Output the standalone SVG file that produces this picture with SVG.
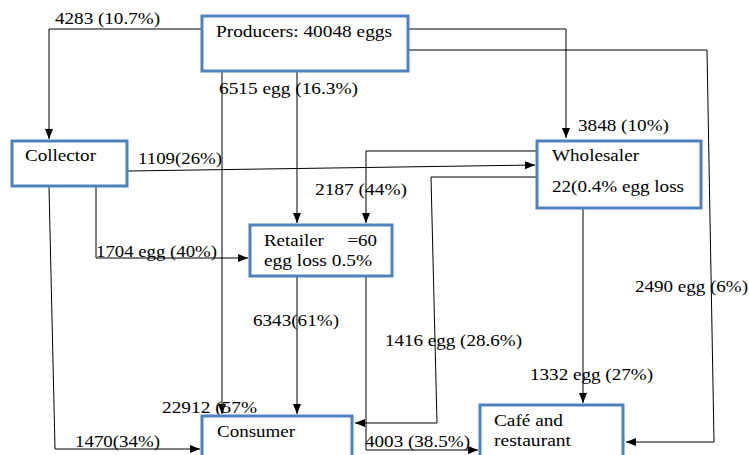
<svg xmlns="http://www.w3.org/2000/svg" width="749" height="455" viewBox="0 0 749 455">
<style>
.box{fill:#fff;stroke:#4f81bd;stroke-width:3}
.ln{fill:none;stroke:#000;stroke-width:1}
.ar{marker-end:url(#arr)}
text{font-family:'Liberation Serif','DejaVu Serif','Times New Roman',serif;font-size:16px;fill:#000}
</style>
<defs>
<marker id="arr" markerUnits="userSpaceOnUse" markerWidth="11" markerHeight="9" refX="10" refY="4" orient="auto">
<path d="M0,0 L10,4 L0,8 z" fill="#000"/>
</marker>
</defs>
<rect width="749" height="455" fill="#fff"/>
<g id="connectors" font-family="Liberation Serif, DejaVu Serif, serif">
<polyline class="ln ar" points="205,29 49,29 49,139"/>
<polyline class="ln ar" points="409,29 566,29 566,138"/>
<polyline class="ln ar" points="409,50 707,50 714,442 626,442"/>
<polyline class="ln ar" points="297,71 297,223"/>
<polyline class="ln ar" points="222,71 222,414"/>
<polyline class="ln ar" points="128,171 535,165"/>
<polyline class="ln ar" points="96,186 96,258 248,258"/>
<polyline class="ln ar" points="49,187 55,449 200,449"/>
<polyline class="ln ar" points="536,151 366,151 366,223"/>
<polyline class="ln ar" points="536,177 431,177 437,423 355,423"/>
<polyline class="ln ar" points="583,209 583,403"/>
<polyline class="ln ar" points="297,277 297,414"/>
<polyline class="ln ar" points="366,277 366,450 478,450"/>
<text x="55" y="24" textLength="105" lengthAdjust="spacingAndGlyphs">4283 (10.7%)</text>
<text x="578" y="131" textLength="91" lengthAdjust="spacingAndGlyphs">3848 (10%)</text>
<text x="635" y="292" textLength="113" lengthAdjust="spacingAndGlyphs">2490 egg (6%)</text>
<text x="219" y="94" textLength="139" lengthAdjust="spacingAndGlyphs">6515 egg (16.3%)</text>
<text x="162" y="413" textLength="95" lengthAdjust="spacingAndGlyphs">22912 (57%</text>
<text x="138" y="164" textLength="84" lengthAdjust="spacingAndGlyphs">1109(26%)</text>
<text x="96" y="257" textLength="121" lengthAdjust="spacingAndGlyphs">1704 egg (40%)</text>
<text x="75" y="447" textLength="85" lengthAdjust="spacingAndGlyphs">1470(34%)</text>
<text x="315" y="195" textLength="92" lengthAdjust="spacingAndGlyphs">2187 (44%)</text>
<text x="385" y="346" textLength="137" lengthAdjust="spacingAndGlyphs">1416 egg (28.6%)</text>
<text x="530" y="380" textLength="123" lengthAdjust="spacingAndGlyphs">1332 egg (27%)</text>
<text x="253" y="326" textLength="86" lengthAdjust="spacingAndGlyphs">6343(61%)</text>
<text x="365" y="447" textLength="105" lengthAdjust="spacingAndGlyphs">4003 (38.5%)</text>
</g>
<g id="producers">
<rect class="box" x="202" y="16" width="206" height="55"/>
<text x="216" y="37" textLength="176" lengthAdjust="spacingAndGlyphs">Producers: 40048 eggs</text>
</g>
<g id="collector">
<rect class="box" x="12" y="141" width="115" height="45"/>
<text x="25" y="161" textLength="71" lengthAdjust="spacingAndGlyphs">Collector</text>
</g>
<g id="wholesaler">
<rect class="box" x="537" y="141" width="164" height="67"/>
<text x="552" y="161" textLength="87" lengthAdjust="spacingAndGlyphs">Wholesaler</text>
<text x="552" y="192" textLength="132" lengthAdjust="spacingAndGlyphs">22(0.4% egg loss</text>
</g>
<g id="retailer">
<rect class="box" x="250" y="225" width="142" height="51"/>
<text x="264" y="246" xml:space="preserve" textLength="113" lengthAdjust="spacingAndGlyphs">Retailer     =60</text>
<text x="264" y="266" textLength="108" lengthAdjust="spacingAndGlyphs">egg loss 0.5%</text>
</g>
<g id="consumer">
<rect class="box" x="202" y="416" width="150" height="50"/>
<text x="217" y="437" textLength="78" lengthAdjust="spacingAndGlyphs">Consumer</text>
</g>
<g id="cafe">
<rect class="box" x="480" y="405" width="143" height="60"/>
<text x="494" y="426" textLength="69" lengthAdjust="spacingAndGlyphs">Café and</text>
<text x="494" y="446" textLength="77" lengthAdjust="spacingAndGlyphs">restaurant</text>
</g>
</svg>
